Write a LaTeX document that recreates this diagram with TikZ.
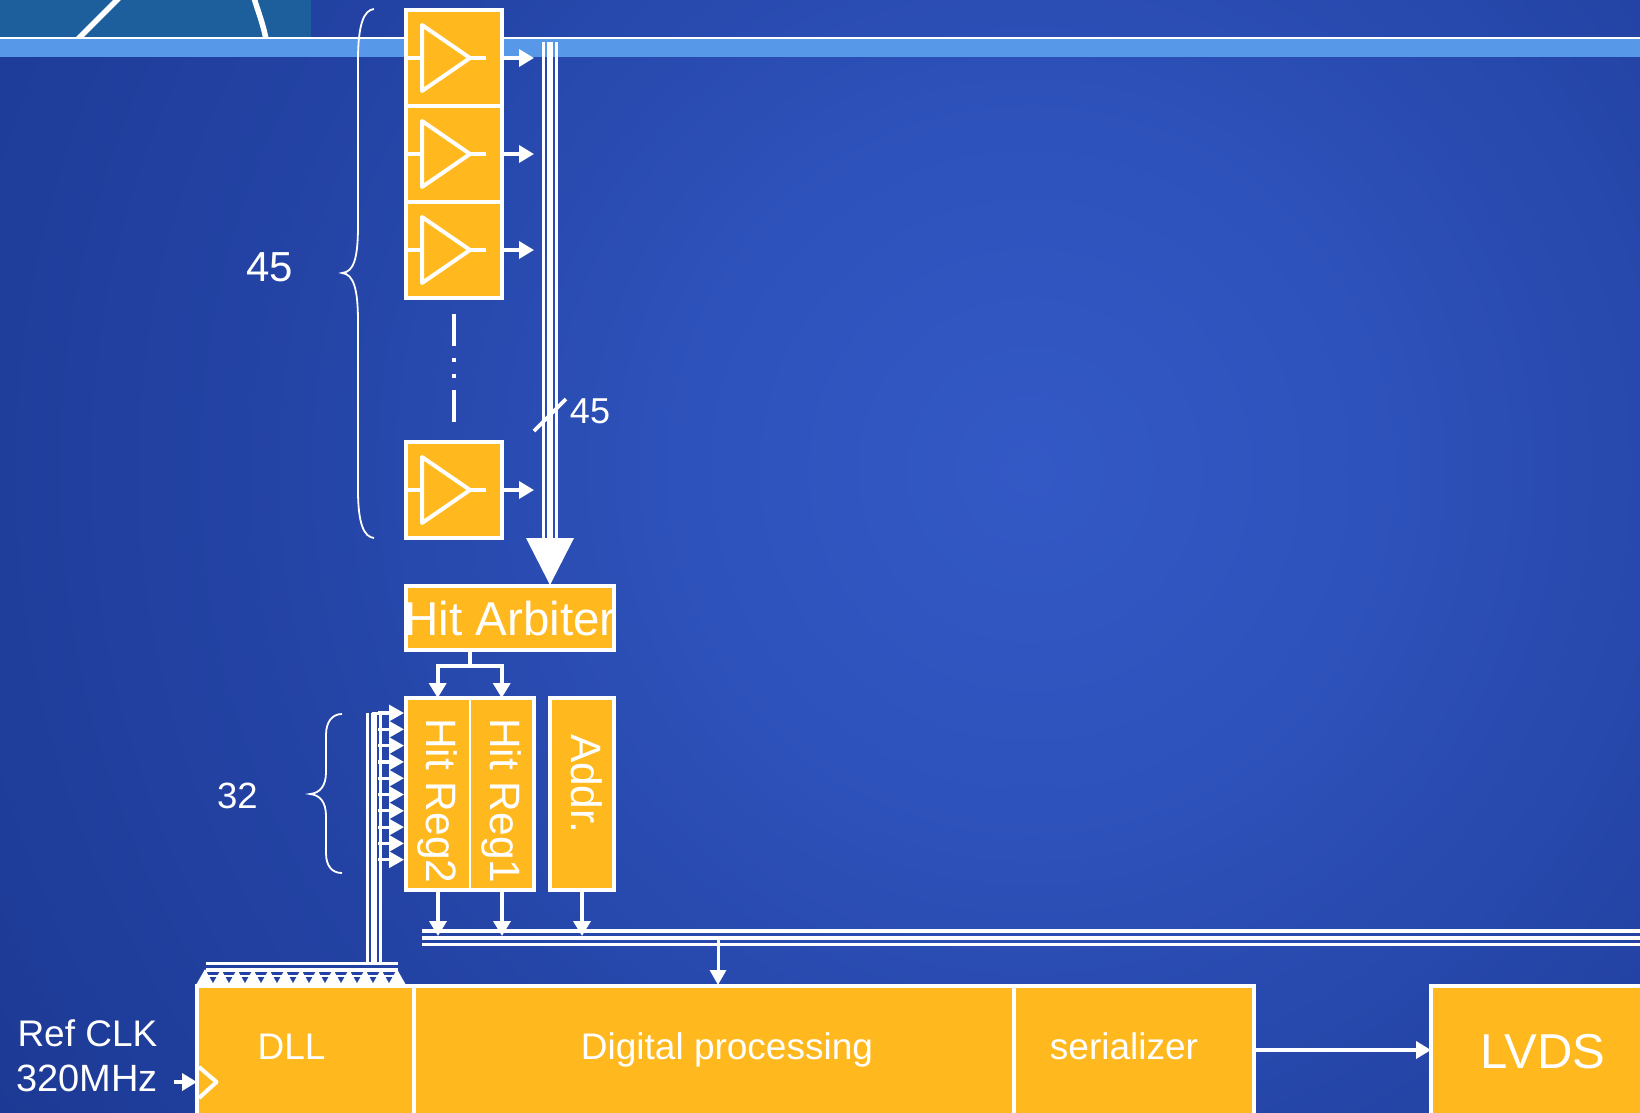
\documentclass[tikz,border=0pt]{standalone}
\usepackage{fontspec}
\setmainfont{Liberation Sans}
\usetikzlibrary{arrows.meta,calc}
\definecolor{boxc}{HTML}{FFB81E}
\definecolor{barc}{HTML}{5898E8}
\definecolor{tealc}{HTML}{1D5E9C}
\definecolor{bga}{HTML}{3359C6}
\definecolor{bgb}{HTML}{2E52BB}
\definecolor{bgc}{HTML}{2444A6}
\definecolor{bgd}{HTML}{1C3994}
\pgfdeclareradialshading{bgshade}{\pgfpoint{0bp}{0bp}}{color(0bp)=(bga); color(7bp)=(bgb); color(15bp)=(bgc); color(25bp)=(bgd); color(50bp)=(bgd)}
\tikzset{
  x=1pt,y=-1pt,
  boxn/.style={draw=white,fill=boxc,line width=4pt,inner sep=0pt,outer sep=0pt},
  amp/.style={boxn,minimum width=96pt,minimum height=96pt},
  sym/.style={draw=white,line width=4pt,line join=round},
  wire/.style={draw=white,line width=3.6pt},
  arr/.style={wire,-{Triangle[length=15pt,width=17pt]}},
  txt/.style={text=white,inner sep=0pt,outer sep=0pt},
  brace/.style={draw=white,line width=1.8pt},
}
\newcommand{\fs}[1]{\fontsize{#1}{#1}\selectfont}
\begin{document}
\begin{tikzpicture}
\useasboundingbox (0,0) rectangle (1640,1112);
\begin{scope}
\clip (0,0) rectangle (1640,1112);
\shade[shading=bgshade] (-200,-760) rectangle (2260,1700);
% header band
\fill[tealc] (0,0) rectangle (311,38);
\draw[white,line width=5.5pt] (78,39) -- (119,-2);
\draw[white,line width=5.5pt] (254,-2) .. controls (259,14) and (263,24) .. (266,39);
\fill[barc] (0,38) rectangle (1640,57);
\draw[white,line width=1.5pt] (0,38) -- (1640,38);

% amplifier boxes
\foreach \n/\yy in {1/58,2/154,3/250,4/490}{
  \node[amp] (a\n) at (454,\yy) {};
  \coordinate (ti\n) at (422,\yy-33);
  \coordinate (bi\n) at (422,\yy+33);
  \coordinate (tp\n) at (470,\yy);
  \coordinate (so\n) at (486,\yy);
  \coordinate (si\n) at (408,\yy);
  \coordinate (bus\n) at (534,\yy);
  \draw[sym] (ti\n) -- (tp\n) -- (bi\n) -- cycle;
  \draw[sym] (si\n) -- (si\n -| ti\n);
  \draw[sym] (tp\n) -- (so\n);
  \draw[arr] (a\n.east) -- (bus\n);
}
% ellipsis between amplifiers
\draw[sym] (453.5,314) -- (453.5,346);
\draw[sym] (453.5,358) -- (453.5,362);
\draw[sym] (453.5,374) -- (453.5,378);
\draw[sym] (453.5,390) -- (453.5,422);

% 45 brace
\draw[brace] (374,9) .. controls (364,10) and (358,24) .. (358,60)
  -- (358,225) .. controls (358,258) and (354,272) .. (342,273)
  .. controls (354,274) and (358,290) .. (358,322)
  -- (358,490) .. controls (358,524) and (364,537) .. (374,538);
\node[txt,anchor=base] (n45) at (269.5,281) {\fs{42}45};

% arbiter and its bus
\node[boxn,minimum width=208pt,minimum height=64pt] (arb) at (510,618) {};
\node[txt,anchor=base] (arbt) at (510,635) {\fs{47.5}Hit Arbiter};
\draw[white,line width=3pt] (543.5,42) -- (543.5,540);
\draw[white,line width=6.5pt] (550,42) -- (550,540);
\draw[white,line width=3pt] (556.5,42) -- (556.5,540);
\fill[white] (526,538) -- (574,538) -- (550,585) -- cycle;
\draw[white,line width=3.6pt] (534,431) -- (566,399);
\node[txt,anchor=base] (m45) at (590,423) {\fs{36}45};

% arbiter to registers
\node[boxn,minimum width=128pt,minimum height=192pt] (regs) at (470,794) {};
\node[boxn,minimum width=64pt,minimum height=192pt] (addr) at (581.5,794) {};
\draw[white,line width=2pt] (regs.north) -- (regs.south);
\coordinate (j0) at (469.7,665.7);
\coordinate (j1) at (437.7,665.7);
\coordinate (j2) at (501.7,665.7);
\draw[wire] (arb.south -| j0) -- (j0);
\draw[arr] (j0) -- (j1) -- (j1 |- regs.north);
\draw[arr] (j0) -- (j2) -- (j2 |- regs.north);
\node[txt,rotate=-90,anchor=base west] (r2t) at (426,718) {\fs{42.5}Hit Reg2};
\node[txt,rotate=-90,anchor=base west] (r1t) at (490,718) {\fs{42.5}Hit Reg1};
\node[txt,rotate=-90,anchor=base west] (addrt) at (571,734) {\fs{42.5}Addr.};

% register outputs to data bus
\coordinate (d1) at (438,936);
\coordinate (d2) at (502,936);
\coordinate (d3) at (582,936);
\draw[arr] (d1 |- regs.south) -- (d1);
\draw[arr] (d2 |- regs.south) -- (d2);
\draw[arr] (d3 |- addr.south) -- (d3);
\draw[white,line width=3.5pt] (421.7,931) -- (1640,931);
\draw[white,line width=4.5pt] (421.7,938) -- (1640,938);
\draw[white,line width=2.5pt] (421.7,944.5) -- (1640,944.5);

% bottom row
\node[boxn,minimum width=217pt,minimum height=144pt] (dll) at (305.5,1058) {};
\node[boxn,minimum width=600pt,minimum height=144pt] (dig) at (714,1058) {};
\node[boxn,minimum width=240pt,minimum height=144pt] (ser) at (1134,1058) {};
\node[boxn,minimum width=270pt,minimum height=144pt] (lvds) at (1566,1058) {};
\node[txt,anchor=base] (dllt) at (291.5,1059) {\fs{37}DLL};
\node[txt,anchor=base] (digt) at (727,1059) {\fs{37}Digital processing};
\node[txt,anchor=base] (sert) at (1124,1059) {\fs{37}serializer};
\node[txt,anchor=base] (lvdst) at (1543,1068) {\fs{49}LVDS};
\coordinate (sr) at (1254,1050);
\coordinate (ll) at (1431,1050);
\draw[arr] (sr) -- (ll);
\coordinate (dt) at (718,940);
\coordinate (db) at (718,985);
\draw[white,line width=3pt,-{Triangle[length=15pt,width=16pt]}] (dt) -- (db);

% clock input
\node[txt,anchor=base west] (ref1) at (17.5,1046) {\fs{37}Ref CLK};
\node[txt,anchor=base west] (ref2) at (16.5,1091) {\fs{38}320MHz};
\coordinate (ck0) at (174,1082);
\coordinate (ck1) at (197,1082);
\draw[arr] (ck0) -- (ck1);
\draw[sym] (199,1067) -- (216.5,1082) -- (199,1098);

% clock distribution
\draw[white,line width=2.5pt] (367.3,713) -- (367.3,965);
\draw[white,line width=5.2pt] (374,713) -- (374,965);
\draw[white,line width=2.5pt] (380.5,713) -- (380.5,965);
\foreach \i in {0,...,9}{
  \coordinate (cl\i) at (378,713+16.3*\i);
  \draw[white,line width=3.2pt,-{Triangle[length=15pt,width=16pt]}] (cl\i) -- (404,713+16.3*\i);
}
\draw[white,line width=3pt] (371.5,713) -- (380,713);
\foreach \i in {0,...,12}{
  \coordinate (cb\i) at (205+16*\i,985);
  \draw[white,line width=3pt,-{Triangle[length=15pt,width=16pt]}] (cb\i) -- (205+16*\i,969);
}
\draw[white,line width=3.5pt] (206,963.5) -- (398,963.5);
\draw[white,line width=4.5pt] (206,970) -- (398,970);
\draw[white,line width=2.5pt] (206,976) -- (398,976);

% 32 brace
\draw[brace] (342,714) .. controls (332,714) and (326,722) .. (326,735)
  -- (326,772) .. controls (326,786) and (320,793) .. (310,794)
  .. controls (320,795) and (326,802) .. (326,816)
  -- (326,853) .. controls (326,866) and (332,873) .. (342,873);
\node[txt,anchor=base] (n32) at (237.5,808) {\fs{36.5}32};
\end{scope}
\end{tikzpicture}
\end{document}
